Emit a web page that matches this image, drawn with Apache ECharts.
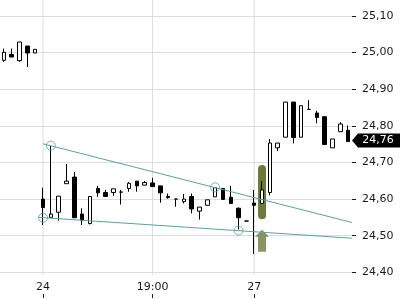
<!DOCTYPE html>
<html>
<head>
<meta charset="utf-8">
<script src="https://cdn.jsdelivr.net/npm/echarts@6/dist/echarts.min.js"></script>
<style>
  html, body { margin: 0; padding: 0; background: #fff; }
  #chart { width: 400px; height: 300px; }
</style>
</head>
<body>
<div id="chart"></div>
<script>
// candles, left to right
var opens  = [24.979, 24.995, 24.978, 25.018, 24.999, 24.600, 24.550, 24.564, 24.642, 24.660,
              24.559, 24.533, 24.629, 24.618, 24.618, 24.619, 24.629, 24.649, 24.638, 24.644,
              24.636, 24.607, 24.600, 24.593, 24.607, 24.567, 24.583, 24.606, 24.629, 24.605,
              24.575, 24.540, 24.589, 24.588, 24.618, 24.740, 24.769, 24.865, 24.769, 24.845,
              24.835, 24.825, 24.740, 24.784, 24.788];
var closes = [25.001, 24.988, 25.029, 24.999, 25.009, 24.577, 24.559, 24.608, 24.649, 24.549,
              24.542, 24.607, 24.617, 24.607, 24.628, 24.619, 24.643, 24.636, 24.645, 24.634,
              24.617, 24.604, 24.600, 24.600, 24.573, 24.578, 24.598, 24.631, 24.599, 24.588,
              24.549, 24.540, 24.583, 24.625, 24.753, 24.753, 24.865, 24.768, 24.855, 24.845,
              24.823, 24.749, 24.764, 24.805, 24.757];
var lows   = [24.975, 24.988, 24.975, 24.961, 24.999, 24.529, 24.550, 24.541, 24.642, 24.549,
              24.529, 24.531, 24.606, 24.607, 24.609, 24.585, 24.620, 24.620, 24.638, 24.634,
              24.590, 24.601, 24.579, 24.588, 24.561, 24.544, 24.583, 24.606, 24.599, 24.588,
              24.517, 24.540, 24.450, 24.588, 24.610, 24.731, 24.769, 24.752, 24.769, 24.845,
              24.807, 24.749, 24.740, 24.784, 24.757];
var highs  = [25.011, 25.011, 25.029, 25.018, 25.009, 24.631, 24.746, 24.608, 24.696, 24.674,
              24.575, 24.607, 24.636, 24.625, 24.628, 24.625, 24.647, 24.649, 24.649, 24.658,
              24.636, 24.615, 24.600, 24.614, 24.615, 24.578, 24.598, 24.631, 24.629, 24.636,
              24.577, 24.540, 24.625, 24.649, 24.764, 24.753, 24.865, 24.865, 24.855, 24.870,
              24.841, 24.825, 24.764, 24.810, 24.801];

var timeTickIndex  = [5, 19, 32];
var timeTickLabels = ['24', '19:00', '27'];

var priceMin = 24.3, priceMax = 25.2, priceStep = 0.1;
var gridFloor = 24.393;

// drawn annotations (candle index, price)
var upperTrend  = [[5.0, 24.751], [44.5, 24.536]];
var upperPivots = [[6, 24.746], [27, 24.632]];
var lowerTrend  = [[4.4, 24.550], [44.5, 24.493]];
var lowerPivots = [[5, 24.549], [30, 24.514]];
var signalBar   = [[33, 24.682], [33, 24.556]];
var signalArrow = [[33, 24.486]];
var lastPrice   = 24.76;

var ink = '#1a1a1a';
var gridCol = '#dcdcdc';
var teal = '#5e9fa1';
var olive = '#6b7a3a';
var font = 'DejaVu Sans';

var categories = opens.map(function (_, i) { return String(i); });
var candles = opens.map(function (o, i) { return [o, closes[i], lows[i], highs[i]]; });
function comma(v) { return v.toFixed(2).replace('.', ','); }
function isTick(i) { return timeTickIndex.indexOf(i) >= 0; }

var series = [];

// vertical grid lines stop above the time labels
timeTickIndex.forEach(function (i) {
  series.push({
    type: 'line', xAxisIndex: 1, data: [[i, priceMax], [i, gridFloor]],
    symbol: 'none', silent: true, z: 1,
    lineStyle: { color: gridCol, width: 1 }
  });
});

series.push({
  type: 'line', xAxisIndex: 1, data: signalBar, symbol: 'none', silent: true, z: 2,
  lineStyle: { color: olive, width: 8, cap: 'round' }
});
series.push({
  type: 'scatter', xAxisIndex: 1, data: signalArrow, silent: true, z: 2,
  symbol: 'path://M7,0 L14,7 L11,7 L11,22 L3,22 L3,7 L0,7 Z',
  symbolSize: [14, 22], itemStyle: { color: olive }
});

series.push({
  type: 'candlestick', xAxisIndex: 0, data: candles, barWidth: 4, z: 3,
  itemStyle: {
    color: '#ffffff', color0: '#000000',
    borderColor: '#000000', borderColor0: '#000000', borderWidth: 1
  }
});

[upperTrend, lowerTrend].forEach(function (d) {
  series.push({
    type: 'line', xAxisIndex: 1, data: d, symbol: 'none', silent: true, z: 4,
    lineStyle: { color: teal, width: 1 }
  });
});
series.push({
  type: 'scatter', xAxisIndex: 1, data: upperPivots.concat(lowerPivots), silent: true, z: 4,
  symbol: 'circle', symbolSize: 9,
  itemStyle: { color: 'rgba(0,0,0,0)', borderColor: teal, borderWidth: 1 }
});

series.push({
  type: 'scatter', xAxisIndex: 1, data: [[44.5, lastPrice]], silent: true, z: 5, clip: false,
  symbol: 'path://M0,7 L6,0 L48,0 L48,14 L6,14 Z',
  symbolSize: [48, 14], symbolOffset: [24, 0],
  itemStyle: { color: '#000', opacity: 1 },
  label: {
    show: true, position: 'inside', offset: [2, 0], color: '#fff',
    fontFamily: font, fontSize: 11,
    formatter: function () { return comma(lastPrice); }
  }
});

var chart = echarts.init(document.getElementById('chart'), null, { renderer: 'canvas' });
chart.setOption({
  animation: false,
  backgroundColor: '#fff',
  grid: { left: 0, right: 48, top: -20.6, bottom: -8.9, containLabel: false, outerBoundsMode: 'none' },
  xAxis: [{
    type: 'category',
    data: categories,
    boundaryGap: true,
    position: 'bottom',
    offset: -14.9,
    axisLine: { show: false, onZero: false },
    axisTick: { show: true, length: 4, interval: function (i) { return isTick(i); },
                alignWithLabel: true, lineStyle: { color: ink } },
    axisLabel: {
      inside: true, margin: 1, color: ink, fontFamily: font, fontSize: 11,
      interval: function (i) { return isTick(i); },
      formatter: function (v, i) { var k = timeTickIndex.indexOf(i); return k >= 0 ? timeTickLabels[k] : ''; }
    },
    splitLine: { show: false }
  }, {
    type: 'value', min: -0.5, max: categories.length - 0.5, show: false, position: 'top',
    axisLine: { onZero: false }
  }],
  yAxis: {
    type: 'value', position: 'right', scale: true,
    min: priceMin, max: priceMax, interval: priceStep,
    axisLine: { show: false, onZero: false },
    axisTick: { show: true, length: 4, lineStyle: { color: ink } },
    axisLabel: { margin: 10, color: ink, fontFamily: font, fontSize: 11, formatter: comma },
    splitLine: { show: true, lineStyle: { color: gridCol, width: 1 } }
  },
  series: series
});
</script>
</body>
</html>
